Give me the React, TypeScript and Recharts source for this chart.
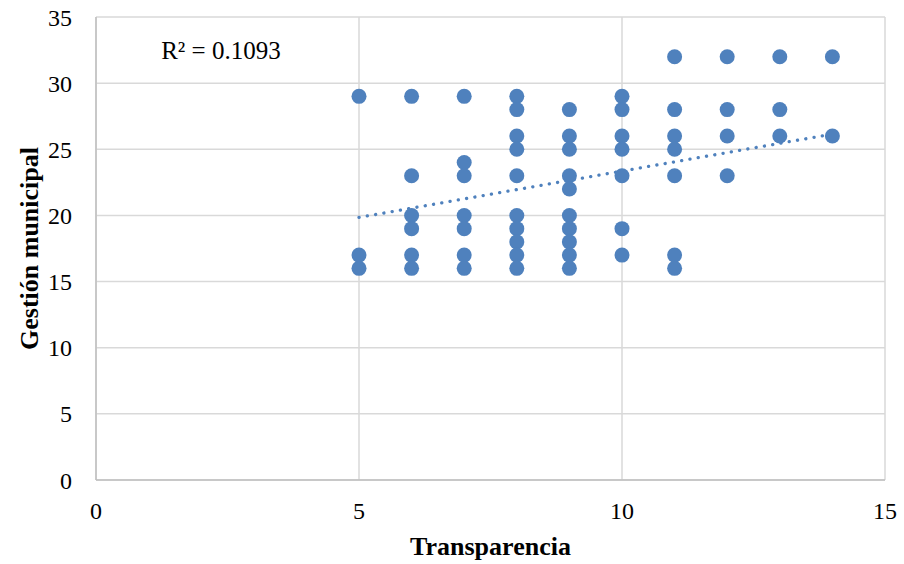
import React from 'react';
import { ScatterChart, Scatter, XAxis, YAxis, CartesianGrid, ReferenceLine, ReferenceDot } from 'recharts';

// Transparencia (x) and Gestión municipal (y)
const transparencia = [
  5, 5, 5,
  6, 6, 6, 6, 6, 6,
  7, 7, 7, 7, 7, 7, 7,
  8, 8, 8, 8, 8, 8, 8, 8, 8, 8,
  9, 9, 9, 9, 9, 9, 9, 9, 9, 9,
  10, 10, 10, 10, 10, 10, 10,
  11, 11, 11, 11, 11, 11, 11,
  12, 12, 12, 12,
  13, 13, 13,
  14, 14,
];
const gestion = [
  29, 17, 16,
  29, 23, 20, 19, 17, 16,
  29, 24, 23, 20, 19, 17, 16,
  29, 28, 26, 25, 23, 20, 19, 18, 17, 16,
  28, 26, 25, 23, 22, 20, 19, 18, 17, 16,
  29, 28, 26, 25, 23, 19, 17,
  32, 28, 26, 25, 23, 17, 16,
  32, 28, 26, 23,
  32, 28, 26,
  32, 26,
];

// linear trend line end points as drawn
const trendX = [5, 14];
const trendY = [19.85, 26.15];

const xTicks = [0, 5, 10, 15];
const yTicks = [0, 5, 10, 15, 20, 25, 30, 35];

const rSquared = 'R² = 0.1093';

const points = transparencia.map((x, i) => ({ x, y: gestion[i] }));
const trend = trendX.map((x, i) => ({ x, y: trendY[i] }));

const BLUE = '#4F81BD';
const FONT = 'Liberation Serif';

const Dot = (props: any) => <circle cx={props.cx} cy={props.cy} r={7.5} fill={BLUE} />;

const tickStyle = { fill: '#000', fontSize: 24, fontFamily: FONT, style: { fontFamily: FONT } };

export default function App() {
  return (
    <div style={{ position: 'absolute', left: 0, top: 0, width: 904, height: 564, background: '#fff', fontFamily: FONT }}>
      <ScatterChart width={904} height={564} margin={{ top: 17, right: 19, bottom: 0, left: 0 }} style={{ fontFamily: FONT }}>
        <CartesianGrid stroke="#D9D9D9" strokeWidth={1.5} />
        <XAxis
          type="number"
          dataKey="x"
          domain={[0, 15]}
          ticks={xTicks}
          height={84}
          stroke="#BFBFBF"
          strokeWidth={1.5}
          tickLine={false}
          tickSize={0}
          tickMargin={22}
          tick={tickStyle}
          label={{ value: 'Transparencia', position: 'insideBottom', offset: 9, fill: '#000', fontSize: 26, fontWeight: 'bold', fontFamily: FONT }}
        />
        <YAxis
          type="number"
          dataKey="y"
          domain={[0, 35]}
          ticks={yTicks}
          width={96}
          stroke="#BFBFBF"
          strokeWidth={1.5}
          tickLine={false}
          tickSize={0}
          tickMargin={24}
          tick={tickStyle}
          label={{ value: 'Gestión municipal', angle: -90, position: 'insideLeft', offset: 29, fill: '#000', fontSize: 26, fontWeight: 'bold', fontFamily: FONT, style: { textAnchor: 'middle' } }}
        />
        <Scatter data={points} fill={BLUE} shape={Dot} isAnimationActive={false} />
        <ReferenceLine
          segment={trend}
          stroke={BLUE}
          strokeWidth={3.3}
          strokeDasharray="0.1 8.3"
          strokeLinecap="round"
        />
        <ReferenceDot
          x={1.22}
          y={32.46}
          r={1}
          fill="none"
          stroke="none"
          label={{ value: rSquared, position: 'right', offset: 0, fill: '#000', fontSize: 25, fontFamily: FONT, style: { fontFamily: FONT } }}
        />
      </ScatterChart>
    </div>
  );
}
